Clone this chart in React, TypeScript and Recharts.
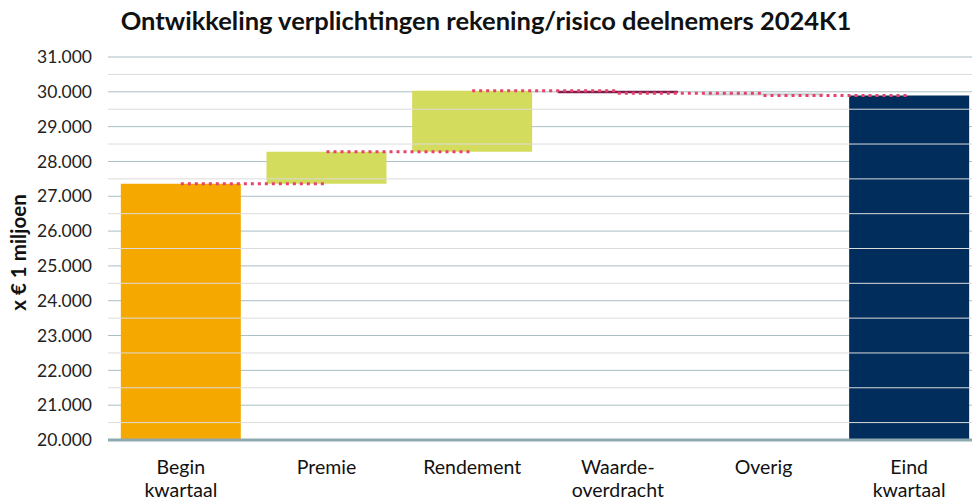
import React from "react";
import {
  ComposedChart,
  Bar,
  Cell,
  XAxis,
  YAxis,
  CartesianGrid,
  ReferenceLine,
} from "recharts";

const categories = [
  "Begin\nkwartaal",
  "Premie",
  "Rendement",
  "Waarde-\noverdracht",
  "Overig",
  "Eind\nkwartaal",
];
const beginValue = 27360;
const deltas = [920, 1750, -70, -65];
const barColors = ["#f5a800", "#d4dc5e", "#d4dc5e", "#7b1e4c", "#c9d3d6", "#002d5c"];
const yTicks = [20000, 21000, 22000, 23000, 24000, 25000, 26000, 27000, 28000, 29000, 30000, 31000];
const minorTicks = [20500, 21500, 22500, 23500, 24500, 25500, 26500, 27500, 28500, 29500, 30500];

const axisMin = 20000;
const axisMax = 31000;

// build waterfall ranges
const levels: number[] = [beginValue];
deltas.forEach((d) => levels.push(levels[levels.length - 1] + d));
const endValue = levels[levels.length - 1];

const data = categories.map((name, i) => {
  let range: [number, number];
  if (i === 0) range = [axisMin, beginValue];
  else if (i === categories.length - 1) range = [axisMin, endValue];
  else {
    const a = levels[i - 1];
    const b = levels[i];
    range = [Math.min(a, b), Math.max(a, b)];
  }
  return { name, range };
});

// connectors: from category i to i+1 at level after i
const connectors = categories.slice(0, -1).map((name, i) => ({
  from: name,
  to: categories[i + 1],
  level: levels[Math.min(i, levels.length - 1)],
}));

const font = "Lato, 'Open Sans', sans-serif";

const fmt = (v: number) => v.toLocaleString("nl-NL").replace(/\u00a0/g, "");

const XTick = (props: any) => {
  const { x, y, payload } = props;
  const lines = String(payload.value).split("\n");
  return (
    <text x={x} y={y} textAnchor="middle" fontSize={19.5} fill="#111" fontFamily={font}>
      {lines.map((l, i) => (
        <tspan key={i} x={x} dy={i === 0 ? 26 : 23}>
          {l}
        </tspan>
      ))}
    </text>
  );
};

const YLabel = (props: any) => {
  const vb = props.viewBox || { y: 57, height: 383 };
  const cx = 18;
  const cy = vb.y + vb.height / 2 + 4;
  return (
    <text
      x={cx}
      y={cy}
      transform={`rotate(-90 ${cx} ${cy})`}
      textAnchor="middle"
      dominantBaseline="central"
      fontSize={20.5}
      fontWeight={700}
      fontFamily={font}
      fill="#111"
    >
      x € 1 miljoen
    </text>
  );
};

export default function App() {
  return (
    <div style={{ position: "absolute", left: 0, top: 0, width: 972, height: 500, background: "#fff", overflow: "hidden" }}>
      <div
        style={{
          position: "absolute",
          top: 5,
          left: 0,
          width: 972,
          textAlign: "center",
          fontFamily: font,
          fontWeight: 700,
          fontSize: 25.5,
          color: "#111",
        }}
      >
        Ontwikkeling verplichtingen rekening/risico deelnemers 2024K1
      </div>
      <ComposedChart
        width={972}
        height={500}
        data={data}
        margin={{ top: 57, right: -10, bottom: 0, left: 0 }}
        barCategoryGap="8.8%"
      >
        <CartesianGrid vertical={false} stroke="#a9bec4" horizontalValues={yTicks} />
        {minorTicks.map((t) => (
          <ReferenceLine key={t} y={t} stroke="#dcdcdc" strokeWidth={1} />
        ))}
        <XAxis
          dataKey="name"
          interval={0}
          tickLine={false}
          axisLine={{ stroke: "#8fa9b1", strokeWidth: 3 }}
          tick={<XTick />}
          height={60}
        />
        <YAxis
          domain={[axisMin, axisMax]}
          ticks={yTicks}
          interval={0}
          axisLine={false}
          tickLine={false}
          width={108}
          tickFormatter={fmt}
          tick={{ fontSize: 17.5, fill: "#222", fontFamily: font, dx: -8 }}
          label={<YLabel />}
        />
        <Bar dataKey="range" isAnimationActive={false}>
          {data.map((d, i) => (
            <Cell key={d.name} fill={barColors[i]} />
          ))}
        </Bar>
        {connectors.map((c) => (
          <ReferenceLine
            key={c.from}
            segment={[
              { x: c.from, y: c.level },
              { x: c.to, y: c.level },
            ]}
            stroke="#e8416b"
            strokeWidth={3}
            strokeDasharray="3 4"
          />
        ))}
      </ComposedChart>
    </div>
  );
}
